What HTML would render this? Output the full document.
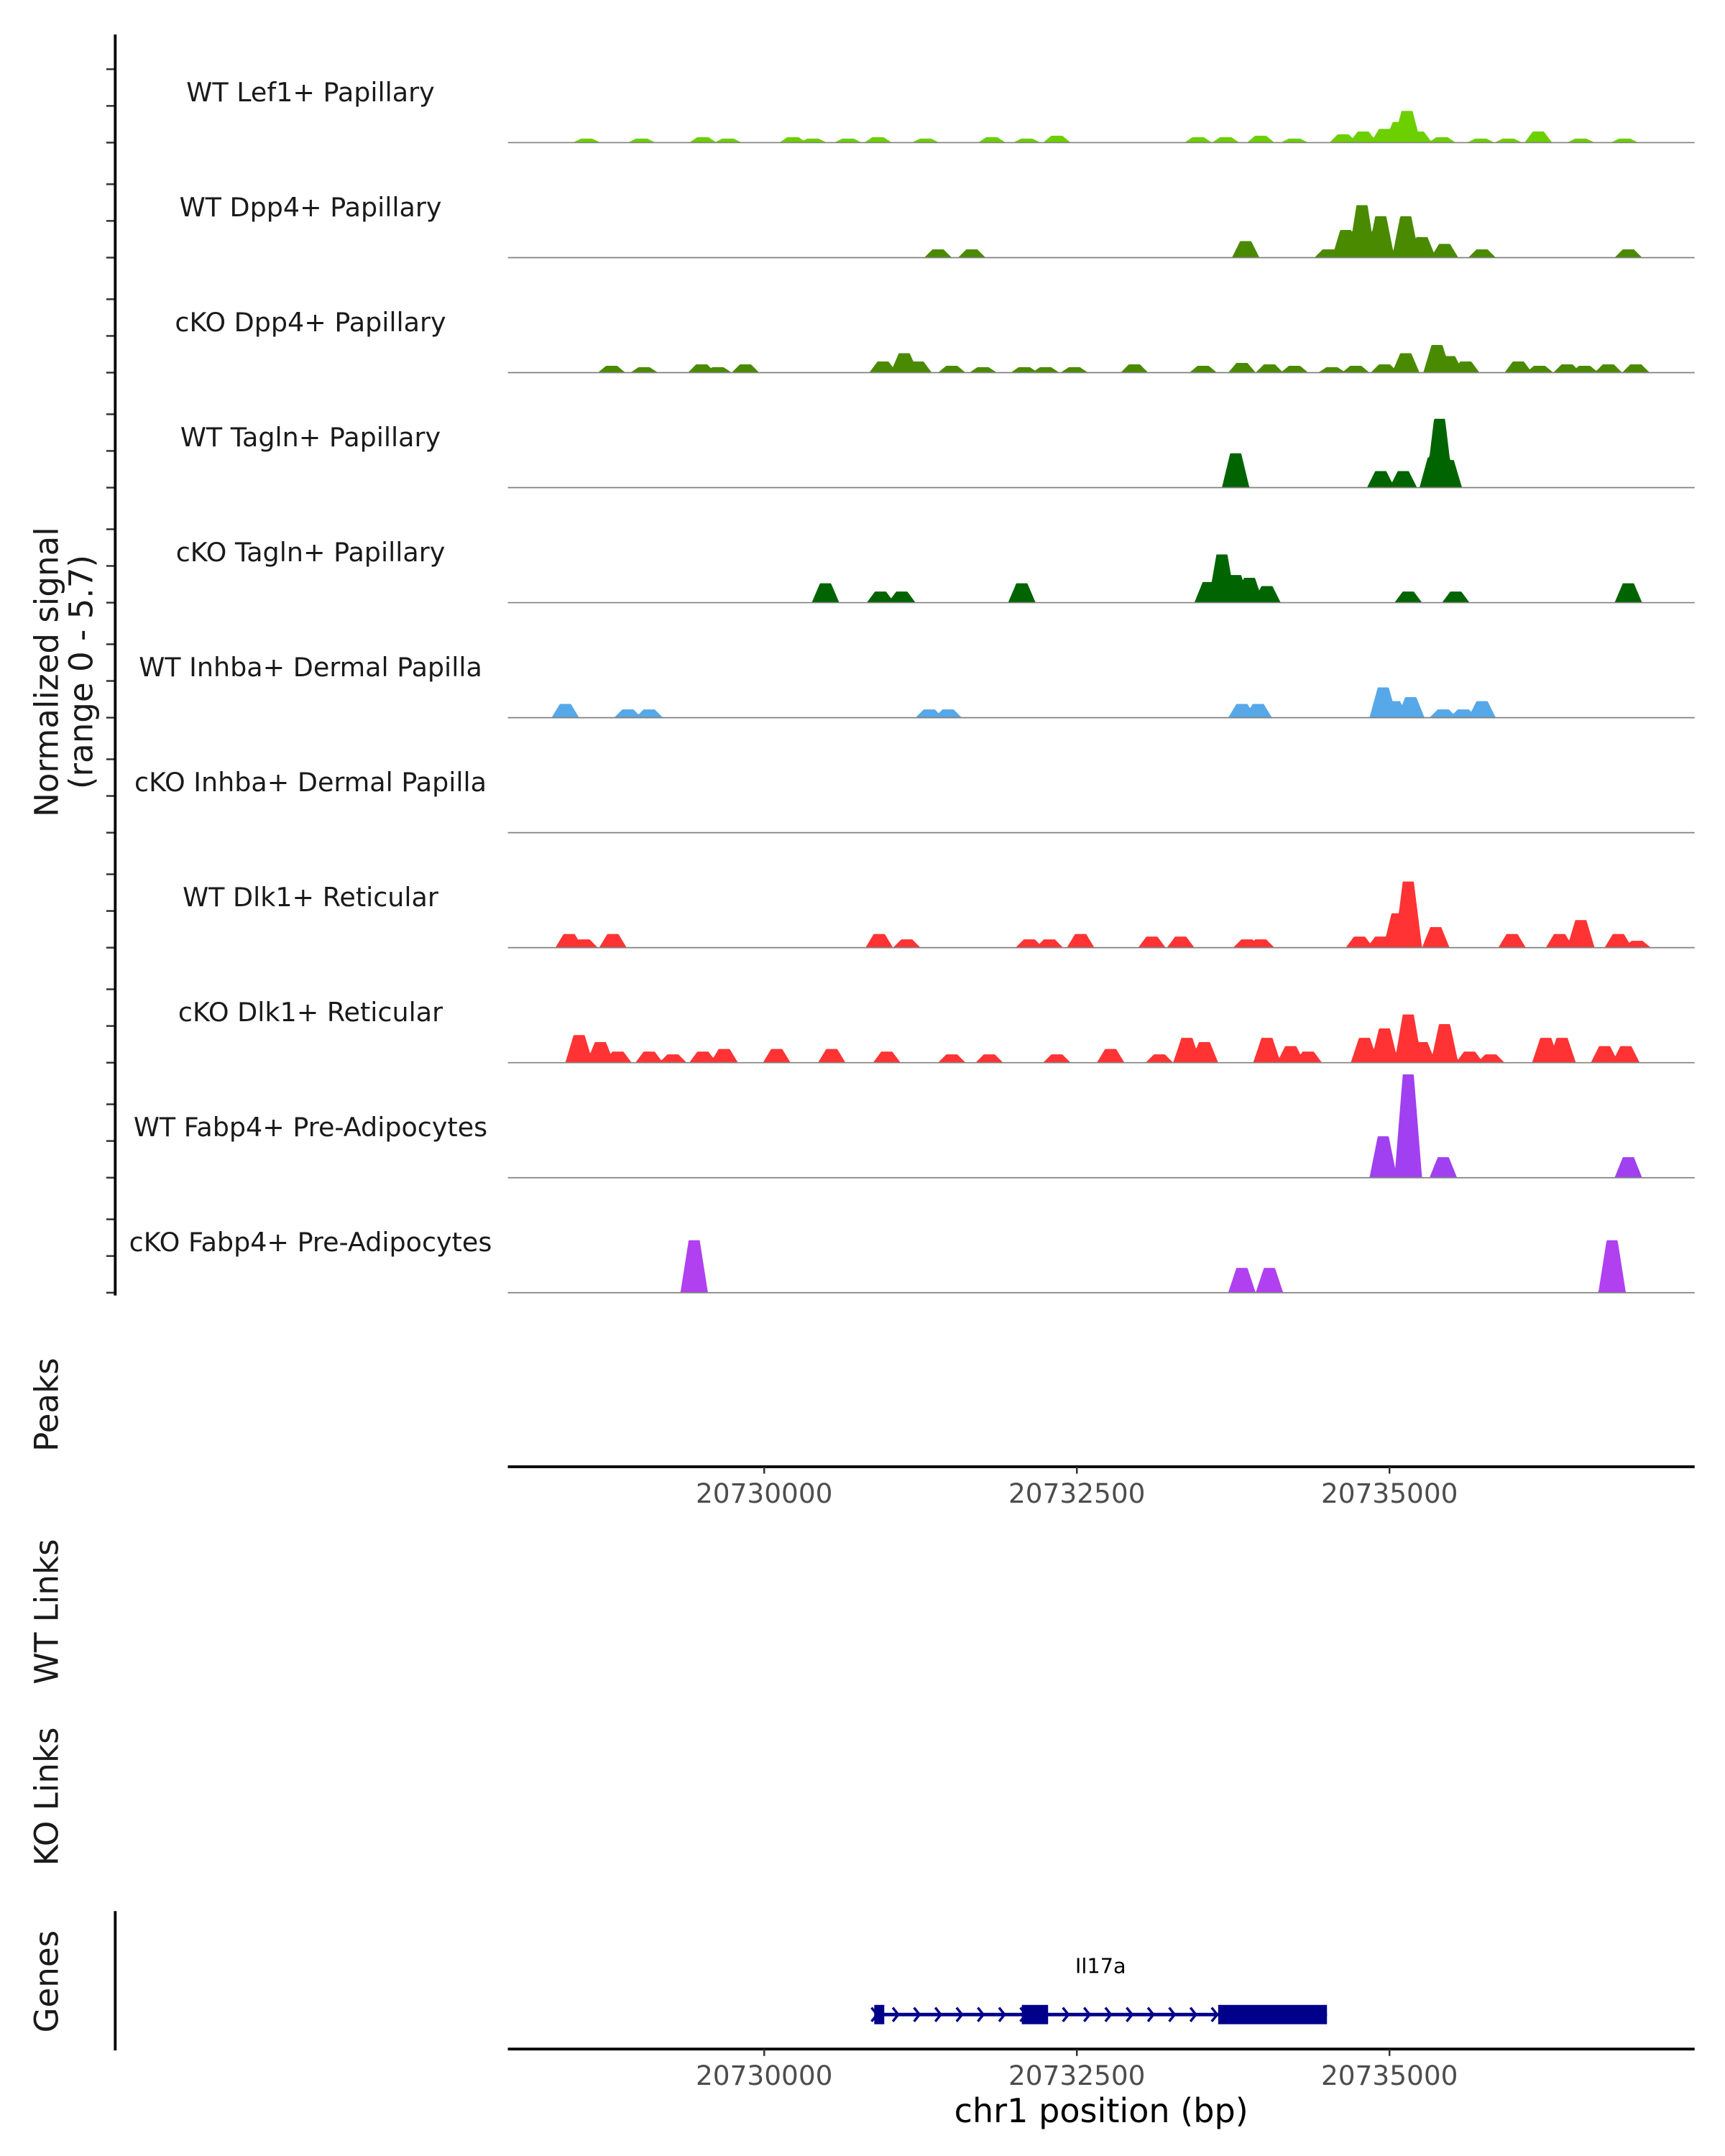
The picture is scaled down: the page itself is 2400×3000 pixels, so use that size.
<!DOCTYPE html>
<html><head><meta charset="utf-8">
<style>
html,body{margin:0;padding:0;background:#fff;}
svg{display:block;font-family:"DejaVu Sans","Liberation Sans",sans-serif;}
</style></head>
<body>
<svg id="chart" width="2400" height="3000" viewBox="0 0 1250 1562.5" preserveAspectRatio="none" xmlns="http://www.w3.org/2000/svg">
<g id="tracks"></g>
<g id="axes"></g>
</svg>
<script>
// ---- data ----
const xStart = 20727950, xEnd = 20737440;
const tickLabels = [20730000, 20732500, 20735000];
const yMax = 5.7;
const trackNames = ["WT Lef1+ Papillary","WT Dpp4+ Papillary","cKO Dpp4+ Papillary","WT Tagln+ Papillary","cKO Tagln+ Papillary","WT Inhba+ Dermal Papilla","cKO Inhba+ Dermal Papilla","WT Dlk1+ Reticular","cKO Dlk1+ Reticular","WT Fabp4+ Pre-Adipocytes","cKO Fabp4+ Pre-Adipocytes"];
const trackColors = ["#6ccf00","#4a8a00","#4a8a00","#006400","#006400","#56a8e8","#56a8e8","#ff3333","#ff3333","#a040f0","#b040f0"];

const lef1WtPos = [20728580,20729020,20729510,20729710,20730230,20730390,20730670,20730910,20731290,20731820,20732100,20732340,20733470,20733690,20733970,20734240,20734630,20734790,20734960,20735070,20735140,20735230,20735420,20735730,20735950,20736190,20736530,20736880];
const lef1WtVal = [0.2,0.2,0.27,0.2,0.27,0.2,0.2,0.27,0.2,0.27,0.2,0.34,0.27,0.27,0.34,0.2,0.41,0.55,0.68,1.02,1.57,0.55,0.27,0.2,0.2,0.55,0.2,0.2];
const dpp4WtPos = [20731390,20731660,20733850,20734510,20734650,20734780,20734930,20735130,20735260,20735440,20735740,20736910];
const dpp4WtVal = [0.41,0.41,0.82,0.41,1.37,2.6,2.05,2.05,1.02,0.68,0.41,0.41];
const dpp4KoPos = [20728780,20729040,20729500,20729630,20729850,20730950,20731120,20731230,20731500,20731750,20732080,20732250,20732480,20732960,20733510,20733820,20734040,20734240,20734540,20734730,20734960,20735130,20735380,20735480,20735610,20736030,20736200,20736420,20736560,20736750,20736970];
const dpp4KoVal = [0.34,0.27,0.41,0.27,0.41,0.55,0.96,0.55,0.34,0.27,0.27,0.27,0.27,0.41,0.34,0.48,0.41,0.34,0.27,0.34,0.41,0.96,1.37,0.82,0.55,0.55,0.34,0.41,0.34,0.41,0.41];
const taglnWtPos = [20733770,20734930,20735110,20735350,20735400,20735470];
const taglnWtVal = [1.7,0.82,0.82,1.5,3.41,1.37];
const taglnKoPos = [20730490,20730930,20731100,20732060,20733550,20733660,20733770,20733880,20734020,20735150,20735530,20736910];
const taglnKoVal = [0.96,0.55,0.55,0.96,1.02,2.39,1.37,1.23,0.82,0.55,0.55,0.96];
const inhbaWtPos = [20728410,20728910,20729080,20731320,20731470,20733820,20733950,20734950,20735040,20735170,20735430,20735590,20735740];
const inhbaWtVal = [0.68,0.41,0.41,0.41,0.41,0.68,0.68,1.5,0.82,1.02,0.41,0.41,0.82];
const inhbaKoPos = [];
const inhbaKoVal = [];
const dlk1WtPos = [20728440,20728560,20728790,20730920,20731140,20732120,20732280,20732530,20733100,20733330,20733860,20733970,20734760,20734930,20735060,20735150,20735370,20735980,20736360,20736530,20736830,20736980];
const dlk1WtVal = [0.68,0.41,0.68,0.68,0.41,0.41,0.41,0.68,0.55,0.55,0.41,0.41,0.55,0.55,1.7,3.28,1.02,0.68,0.68,1.37,0.68,0.34];
const dlk1KoPos = [20728520,20728690,20728830,20729080,20729270,20729510,20729680,20730100,20730540,20730980,20731500,20731800,20732340,20732770,20733160,20733380,20733520,20734020,20734210,20734350,20734800,20734960,20735150,20735260,20735440,20735640,20735810,20736250,20736380,20736720,20736890];
const dlk1KoVal = [1.37,1.02,0.55,0.55,0.41,0.55,0.68,0.68,0.68,0.55,0.41,0.41,0.41,0.68,0.41,1.23,1.02,1.23,0.82,0.55,1.23,1.7,2.39,1.02,1.91,0.55,0.41,1.23,1.23,0.82,0.82];
const fabp4WtPos = [20734950,20735150,20735430,20736910];
const fabp4WtVal = [2.05,5.12,1.02,1.02];
const fabp4KoPos = [20729440,20733820,20734040,20736780];
const fabp4KoVal = [2.6,1.23,1.23,2.6];

const trackPos = [lef1WtPos,dpp4WtPos,dpp4KoPos,taglnWtPos,taglnKoPos,inhbaWtPos,inhbaKoPos,dlk1WtPos,dlk1KoPos,fabp4WtPos,fabp4KoPos];
const trackVal = [lef1WtVal,dpp4WtVal,dpp4KoVal,taglnWtVal,taglnKoVal,inhbaWtVal,inhbaKoVal,dlk1WtVal,dlk1KoVal,fabp4WtVal,fabp4KoVal];

const geneName = "Il17a";
const geneStart = 20730880, geneEnd = 20734500;
const exonStarts = [20730880, 20732060, 20733630];
const exonEnds = [20730960, 20732270, 20734500];

// ---- layout ----
const NS = "http://www.w3.org/2000/svg";
const plotL = 368, plotR = 1228;
const top0 = 20, trackH = 83.35;
function xScale(bp){ return plotL + (bp - xStart) / (xEnd - xStart) * (plotR - plotL); }
function yScale(v, base){ return base - v / yMax * trackH; }
function mk(tag, attrs, parent){ const e = document.createElementNS(NS, tag); for (const k in attrs) e.setAttribute(k, attrs[k]); parent.appendChild(e); return e; }

const tracksG = document.getElementById('tracks');
const axesG = document.getElementById('axes');
const halfW = 110; // bp

trackNames.forEach((name, i) => {
  const base = top0 + trackH * (i + 1);
  const g = mk('g', {}, tracksG);
  
  
  const lbl = mk('text', {x: 225, y: base - 30, 'text-anchor': 'middle', 'font-size': 19, fill: '#1a1a1a'}, g);
  lbl.textContent = name;
  
  
  const pos = trackPos[i], val = trackVal[i];
  let d = 'M' + plotL + ' ' + base;
  for (let px = plotL; px <= plotR; px += 0.5) {
    const bp = xStart + (px - plotL) / (plotR - plotL) * (xEnd - xStart);
    let v = 0;
    for (let k = 0; k < pos.length; k++) {
      const f = Math.max(0, Math.min(1, (halfW - Math.abs(bp - pos[k])) / (halfW * 0.6)));
      v = Math.max(v, val[k] * f);
    }
    d += 'L' + px.toFixed(1) + ' ' + yScale(v, base).toFixed(2);
  }
  d += 'L' + plotR + ' ' + base + 'Z';
  const area = mk('path', {d: d, fill: trackColors[i], stroke: 'none'}, g);
  
  
  const bl = mk('line', {x1: plotL, x2: plotR, y1: base, y2: base, stroke: '#808080', 'stroke-width': 0.9}, g);
  
  
  for (let t = 0; t < 3; t++) {
    const ty = base - t * 26.6;
    const tk = mk('line', {x1: 77, x2: 83, y1: ty, y2: ty, stroke: '#333', 'stroke-width': 1.3}, axesG);
    
    
  }
});

const yAxis = mk('line', {x1: 83.5, x2: 83.5, y1: 25, y2: top0 + trackH * 11 + 2, stroke: '#000', 'stroke-width': 2}, axesG);



function rotText(txt, x, y, size, nm){
  const t = mk('text', {x: x, y: y, 'text-anchor': 'middle', 'font-size': size, fill: '#1a1a1a', transform: 'rotate(-90 ' + x + ' ' + y + ')'}, axesG);
  t.textContent = txt;
  
  
  return t;
}
rotText('Normalized signal', 42, 487, 23.5, 'y-axis-title');
rotText('(range 0 - 5.7)', 67, 487, 23.5, 'y-axis-subtitle');
rotText('Peaks', 42, 1018, 23.5, 'peaks-label');
rotText('WT Links', 42, 1168, 23.5, 'wt-links-label');
rotText('KO Links', 42, 1302, 23.5, 'ko-links-label');
rotText('Genes', 42, 1436, 23.5, 'genes-label');

function xAxis(y, nm){
  const l = mk('line', {x1: plotL, x2: plotR, y1: y, y2: y, stroke: '#000', 'stroke-width': 2}, axesG);
  
  
  tickLabels.forEach(v => {
    const x = xScale(v);
    const tk = mk('line', {x1: x, x2: x, y1: y, y2: y + 5, stroke: '#333', 'stroke-width': 1.3}, axesG);
    
    
    const tl = mk('text', {x: x, y: y + 26, 'text-anchor': 'middle', 'font-size': 19.5, fill: '#4d4d4d'}, axesG);
    tl.textContent = v;
    
    
  });
}
xAxis(1063, 'peaks-x-axis');
xAxis(1485, 'genes-x-axis');

const gl = mk('line', {x1: 83.5, x2: 83.5, y1: 1385, y2: 1486, stroke: '#000', 'stroke-width': 2}, axesG);



const xl = mk('text', {x: 798, y: 1538, 'text-anchor': 'middle', 'font-size': 24, fill: '#000'}, axesG);
xl.textContent = 'chr1 position (bp)';



// gene model
const geneG = mk('g', {}, axesG);


const gy = 1460;
mk('line', {x1: xScale(geneStart), x2: xScale(geneEnd), y1: gy, y2: gy, stroke: '#00008b', 'stroke-width': 2.5}, geneG);
for (let bp = geneStart; bp < geneEnd; bp += 170) {
  const ax = xScale(bp);
  mk('path', {d: 'M' + (ax - 2) + ' ' + (gy - 5) + 'L' + (ax + 2) + ' ' + gy + 'L' + (ax - 2) + ' ' + (gy + 5), fill: 'none', stroke: '#00008b', 'stroke-width': 1.8}, geneG);
}
exonStarts.forEach((s, k) => {
  const r = mk('rect', {x: xScale(s), y: gy - 7, width: xScale(exonEnds[k]) - xScale(s), height: 14, fill: '#00008b'}, geneG);
  
  
});
const gt = mk('text', {x: xScale((geneStart + geneEnd) / 2), y: 1430, 'text-anchor': 'middle', 'font-size': 15, fill: '#000'}, geneG);
gt.textContent = geneName;


</script>
</body></html>
